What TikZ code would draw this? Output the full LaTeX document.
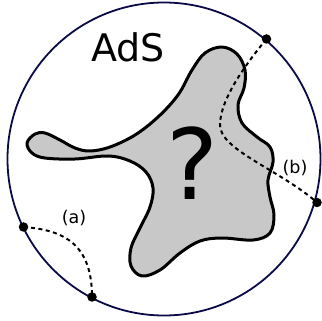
\documentclass[tikz,border=0pt]{standalone}
\usepackage{fontspec}
\setmainfont{DejaVu Sans}
\begin{document}
\begin{tikzpicture}[x=1pt,y=-1pt,
  dot/.style={circle,fill=black,inner sep=0pt,minimum size=9.5pt},
  geo/.style={line width=2pt,dash pattern=on 4pt off 3.5pt},
  lbl/.style={font=\fontsize{17.5}{20}\selectfont,inner sep=0pt}]
\useasboundingbox (0,0) rectangle (322,321);
\draw[line width=1.8pt,draw={rgb,255:red,10;green,10;blue,70}] (164,159) circle (156.5);
\draw[line width=3pt,fill={rgb,255:red,200;green,200;blue,200},line join=round]
  plot[smooth cycle,tension=0.6] coordinates {
  (27,143) (35,134) (45,133) (60,140) (75,148) (90,151) (110,147) (135,135)
  (158,117) (178,95) (192,70) (205,53) (222,47) (237,54) (245,70) (244,88)
  (238,105) (242,123) (257,137) (270,147) (273,162) (268,180) (270,197)
  (274,215) (270,233) (253,240) (222,238) (200,241) (180,253) (160,270)
  (142,276) (131,266) (131,248) (140,228) (150,207) (153,188) (146,172)
  (130,161) (108,156) (75,159) (45,158) (32,153)};
\node[anchor=base,inner sep=0pt,font=\fontsize{38}{44}\selectfont] (ads) at (128,62) {AdS};
\node[anchor=base,inner sep=0pt,font=\fontsize{98}{110}\selectfont] (q) at (193,200) {?};
\node[dot] (pL) at (23.5,227) {};
\node[dot] (pB) at (92,297) {};
\node[dot] (pT) at (266.5,39) {};
\node[dot] (pR) at (317,202.5) {};
\draw[geo] (pL.center) .. controls (65,230) and (92,245) .. (pB.center);
\draw[geo] (pT.center) .. controls (245,65) and (220,100) .. (220,125)
  .. controls (220,150) and (280,170) .. (pR.center);
\node[lbl] (la) at (74,218) {(a)};
\node[lbl] (lb) at (295,168) {(b)};
\end{tikzpicture}
\end{document}
